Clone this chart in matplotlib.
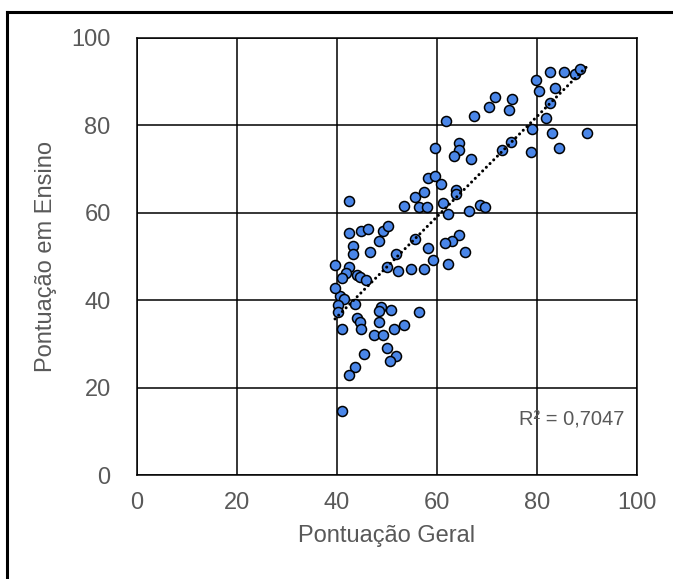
import numpy as np
import matplotlib
matplotlib.use("Agg")
import matplotlib.pyplot as plt
from matplotlib.lines import Line2D

geral = [40.5, 41.4, 40.1, 40.1, 43.5, 40.9, 48.7, 48.3, 50.8, 56.4,
         43.9, 44.5, 44.8, 48.3, 53.4, 51.3, 47.4, 49.1, 49.9, 51.8,
         50.5, 45.3, 43.5, 42.3, 40.9, 42.3, 53.4, 55.6, 57.3, 56.3,
         57.9, 42.3, 44.7, 46.1, 49.1, 50.1, 43.1, 48.3, 43.1, 46.5,
         51.7, 55.6, 58.1, 39.6, 42.3, 41.8, 40.9, 43.9, 44.6, 45.7,
         49.9, 52.1, 54.7, 57.3, 39.6, 61.1, 62.1, 66.4, 68.6, 69.5,
         64.3, 63.0, 61.6, 65.5, 59.1, 62.1, 61.7, 67.3, 70.3, 59.5,
         64.3, 64.3, 63.3, 66.7, 58.1, 59.6, 60.7, 63.8, 63.7, 71.6,
         74.9, 74.3, 79.8, 80.3, 82.7, 85.4, 87.6, 88.7, 83.6, 82.7,
         81.9, 78.9, 83.1, 90.1, 84.5, 78.8, 72.9, 74.7]
ensino = [40.9, 40.3, 38.8, 37.4, 39.2, 33.5, 38.4, 37.5, 37.8, 37.4,
          36.0, 34.9, 33.5, 35.0, 34.4, 33.3, 32.1, 32.1, 29.1, 27.2,
          26.1, 27.7, 24.7, 22.8, 14.6, 62.6, 61.6, 63.5, 64.7, 61.3,
          61.3, 55.4, 55.8, 56.3, 55.8, 56.9, 52.5, 53.5, 50.6, 51.0,
          50.5, 54.0, 52.0, 48.0, 47.6, 46.2, 45.1, 45.7, 45.4, 44.7,
          47.6, 46.6, 47.1, 47.1, 42.9, 62.2, 59.7, 60.3, 61.7, 61.3,
          55.0, 53.5, 53.0, 51.0, 49.1, 48.2, 81.1, 82.2, 84.1, 74.8,
          75.9, 74.4, 72.9, 72.3, 68.0, 68.4, 66.7, 65.2, 64.2, 86.5,
          86.0, 83.6, 90.4, 87.9, 92.3, 92.3, 91.8, 93.0, 88.5, 85.1,
          81.7, 79.2, 78.2, 78.2, 74.8, 74.0, 74.4, 76.1]
ticks = [0, 20, 40, 60, 80, 100]
r2_text = "R² = 0,7047"
xlabel = "Pontuação Geral"
ylabel = "Pontuação em Ensino"

plt.rcParams['font.family'] = ['Liberation Sans', 'DejaVu Sans']

fig = plt.figure(figsize=(6.73, 5.79), dpi=100)
ax = fig.add_axes([0.2036, 0.1796, 0.7429, 0.7548])

ax.scatter(geral, ensino, s=52, color='#4A86E8', edgecolors='black',
           linewidths=1.1, zorder=3)

x = np.array(geral)
y = np.array(ensino)
m, b = np.polyfit(x, y, 1)
xs = np.array([x.min(), x.max()])
ax.plot(xs, m * xs + b, color='black', lw=2.2, linestyle=(0, (0.01, 1.7)),
        dash_capstyle='round', zorder=4)

ax.set_xlim(0, 100)
ax.set_ylim(0, 100)
ax.set_xticks(ticks)
ax.set_yticks(ticks)
ax.grid(True, color='black', lw=1.1)
ax.set_axisbelow(True)
for s in ax.spines.values():
    s.set_color('black')
    s.set_linewidth(1.1)
ax.tick_params(length=0, labelsize=17, colors='#595959', pad=12)
ax.tick_params(axis='y', pad=19)
ax.set_xlabel(xlabel, fontsize=17, color='#595959', labelpad=8)
ax.set_ylabel(ylabel, fontsize=17, color='#595959', labelpad=10)

ax.text(97.5, 12.5, r2_text, fontsize=14.5, color='#595959', ha='right', va='center')

# outer frame: only top and left edges visible (cropped screenshot)
top_y = 1 - 11.5 / 579
left_x = 6.5 / 673
fig.add_artist(Line2D([left_x, 1.0], [top_y, top_y], transform=fig.transFigure,
                      color='black', lw=2.2, solid_capstyle='projecting'))
fig.add_artist(Line2D([left_x, left_x], [top_y, 0.0], transform=fig.transFigure,
                      color='black', lw=2.2, solid_capstyle='projecting'))

fig.savefig('out.png', dpi=100)
